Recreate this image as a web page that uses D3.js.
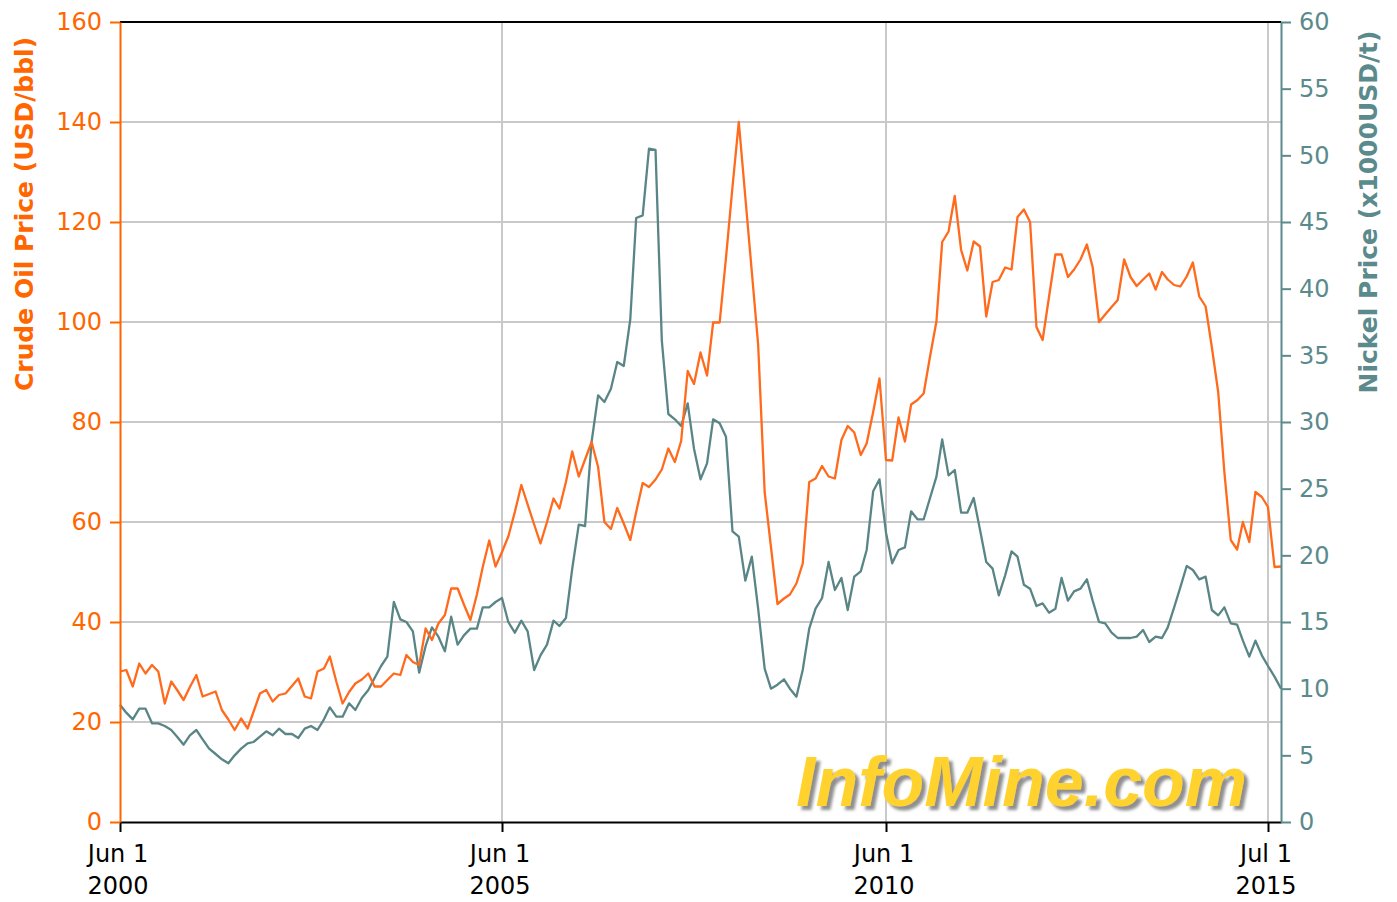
<!DOCTYPE html>
<html>
<head>
<meta charset="utf-8">
<script src="https://cdn.jsdelivr.net/npm/d3@7"></script>
<style>
  html, body { margin: 0; padding: 0; background: #ffffff; }
  svg { display: block; }
</style>
</head>
<body>
<svg id="chart" width="1397" height="902"></svg>
<script>
// ---------------- DATA ----------------
const startMonth = "2000-06-01"; // monthly series start
const oilPrice = [
  30.1,30.4,27.1,31.7,29.7,31.4,30.1,23.7,28.1,26.4,24.4,27.0,
  29.4,25.1,25.6,26.1,22.4,20.5,18.4,20.7,18.7,22.0,25.7,26.4,
  24.1,25.4,25.7,27.2,28.7,25.1,24.7,30.1,30.7,33.1,28.1,23.7,
  26.0,27.7,28.5,29.7,27.1,27.1,28.4,29.7,29.4,33.4,32.0,31.4,
  38.7,36.4,39.7,41.4,46.7,46.7,43.5,40.4,45.5,51.0,56.3,51.1,
  54.0,57.1,62.0,67.4,63.5,59.5,55.7,60.0,64.7,62.7,68.0,74.1,
  69.1,72.5,76.0,71.0,60.0,58.6,62.8,59.7,56.4,62.0,67.8,67.0,
  68.5,70.5,74.7,72.0,76.2,90.2,87.6,93.9,89.3,99.9,99.9,112.8,
  127.0,140.0,125.0,110.0,95.5,66.0,55.0,43.6,44.7,45.5,47.7,51.7,
  68.0,68.7,71.2,69.1,68.7,76.4,79.2,77.9,73.4,75.7,82.0,88.7,
  72.4,72.3,80.9,76.1,83.5,84.4,85.7,93.1,100.1,116.0,118.1,125.2,
  114.4,110.3,116.1,115.1,101.1,108.0,108.4,110.9,110.5,121.0,122.5,120.0,
  99.0,96.4,105.0,113.5,113.5,109.0,110.5,112.5,115.5,111.0,100.0,101.5,
  103.0,104.4,112.5,109.0,107.2,108.5,109.7,106.5,110.0,108.5,107.4,107.1,
  109.1,111.9,105.1,103.1,95.0,86.0,70.0,56.4,54.5,60.0,56.0,66.0,
  65.0,63.0,51.0,51.1
];
const nickelPrice = [
  8.8,8.2,7.7,8.5,8.5,7.4,7.4,7.2,6.9,6.4,5.8,6.5,
  6.9,6.2,5.5,5.1,4.7,4.4,5.0,5.5,5.9,6.0,6.4,6.8,
  6.5,7.0,6.6,6.6,6.3,7.0,7.2,6.9,7.7,8.6,7.9,7.9,
  8.9,8.4,9.3,9.9,10.8,11.7,12.4,16.5,15.2,15.0,14.3,11.2,
  13.2,14.6,13.9,12.8,15.4,13.3,14.0,14.5,14.5,16.1,16.1,16.5,
  16.8,15.0,14.2,15.1,14.3,11.4,12.5,13.3,15.1,14.7,15.3,19.0,
  22.3,22.2,28.5,32.0,31.5,32.5,34.5,34.2,37.7,45.3,45.5,50.5,
  50.4,36.1,30.6,30.2,29.7,31.4,28.0,25.7,26.9,30.2,29.9,28.9,
  21.8,21.4,18.1,19.9,16.0,11.5,10.0,10.3,10.7,10.0,9.4,11.4,
  14.5,16.0,16.8,19.5,17.4,18.3,15.9,18.4,18.8,20.4,24.8,25.7,
  21.7,19.4,20.4,20.6,23.3,22.7,22.7,24.3,25.9,28.7,26.0,26.4,
  23.2,23.2,24.3,21.9,19.5,19.0,17.0,18.5,20.3,19.9,17.8,17.5,
  16.2,16.4,15.7,16.0,18.3,16.6,17.3,17.5,18.2,16.6,15.0,14.9,
  14.2,13.8,13.8,13.8,13.9,14.4,13.5,13.9,13.8,14.6,16.1,17.6,
  19.2,18.9,18.2,18.4,15.9,15.5,16.1,14.9,14.8,13.6,12.4,13.6,
  12.5,11.7,10.9,10.0
];
const xTickDates = ["2000-06-01","2005-06-01","2010-06-01","2015-07-01"];
const xTickLine1 = ["Jun 1","Jun 1","Jun 1","Jul 1"];
const xTickLine2 = ["2000","2005","2010","2015"];
const oilTicks = [0,20,40,60,80,100,120,140,160];
const nickelTicks = [0,5,10,15,20,25,30,35,40,45,50,55,60];
const oilTitle = "Crude Oil Price (USD/bbl)";
const nickelTitle = "Nickel Price (x1000USD/t)";
const watermark = "InfoMine.com";

// ---------------- LAYOUT ----------------
const L = 120, R = 1281, T = 22, B = 822;
const ORANGE = "#ff6600", ORANGE_LINE = "#ff6a1c";
const TEAL = "#5b8a8c", TEAL_LINE = "#5a8587";
const GRID = "#c9c9c9";
const FONT = "'DejaVu Sans', Verdana, sans-serif";

const parse = d3.utcParse("%Y-%m-%d");
const start = parse(startMonth);
const monthDates = d3.range(oilPrice.length).map(i => d3.utcMonth.offset(start, i));
const endDate = monthDates[monthDates.length - 1];

// The source plots evenly by sample, so keep the labelled dates aligned
const x = d3.scaleUtc()
  .domain([...xTickDates.map(parse), endDate])
  .range([L, 502, 886, 1268, R]);
const yOil = d3.scaleLinear().domain([0, 160]).range([B, T]);
const yNi = d3.scaleLinear().domain([0, 60]).range([B, T]);

const svg = d3.select("#chart");

const defs = svg.append("defs");
const f = defs.append("filter").attr("id", "wmShadow")
  .attr("x", "-5%").attr("y", "-10%").attr("width", "115%").attr("height", "130%");
f.append("feDropShadow").attr("dx", 4).attr("dy", 4).attr("stdDeviation", 1.6)
  .attr("flood-color", "#7a7a7a").attr("flood-opacity", 0.85);

// gridlines
svg.append("g").selectAll("line").data(oilTicks.filter(v => v > 0 && v < 160)).join("line")
  .attr("x1", L).attr("x2", R)
  .attr("y1", d => yOil(d)).attr("y2", d => yOil(d))
  .attr("stroke", GRID).attr("stroke-width", 2);
svg.append("g").selectAll("line").data(xTickDates.slice(1)).join("line")
  .attr("x1", d => x(parse(d))).attr("x2", d => x(parse(d)))
  .attr("y1", T).attr("y2", B)
  .attr("stroke", GRID).attr("stroke-width", 2);

// watermark
svg.append("text").attr("x", 796).attr("y", 806)
  .attr("font-family", "'Liberation Sans', Arial, sans-serif")
  .attr("font-weight", "bold").attr("font-style", "italic").attr("font-size", 70)
  .attr("fill", "#ffd22e").attr("filter", "url(#wmShadow)")
  .text(watermark);

// top border
svg.append("line").attr("x1", L).attr("x2", R).attr("y1", T).attr("y2", T)
  .attr("stroke", "#000").attr("stroke-width", 2);

// lines
const lineNi = d3.line().x((d, i) => x(monthDates[i])).y(d => yNi(d));
const lineOil = d3.line().x((d, i) => x(monthDates[i])).y(d => yOil(d));
svg.append("path").datum(nickelPrice).attr("d", lineNi)
  .attr("fill", "none").attr("stroke", TEAL_LINE).attr("stroke-width", 2.3).attr("stroke-linejoin", "round");
svg.append("path").datum(oilPrice).attr("d", lineOil)
  .attr("fill", "none").attr("stroke", ORANGE_LINE).attr("stroke-width", 2.3).attr("stroke-linejoin", "round");

// bottom axis
const xAxis = svg.append("g").attr("transform", `translate(0,${B})`)
  .call(d3.axisBottom(x).tickValues(xTickDates.map(parse)).tickFormat("").tickSize(10).tickSizeOuter(0));
xAxis.select(".domain").attr("stroke", "#000").attr("stroke-width", 2);
xAxis.selectAll(".tick line").attr("stroke", "#000").attr("stroke-width", 2);
const xl = svg.append("g").attr("font-family", FONT).attr("font-size", 24).attr("fill", "#000")
  .attr("text-anchor", "middle");
xTickDates.forEach((d, i) => {
  const cx = x(parse(d)) - 2;
  xl.append("text").attr("x", cx).attr("y", 862).text(xTickLine1[i]);
  xl.append("text").attr("x", cx).attr("y", 894).text(xTickLine2[i]);
});

// left axis
const yl = svg.append("g").attr("transform", `translate(${L},0)`)
  .call(d3.axisLeft(yOil).tickValues(oilTicks).tickSize(10).tickPadding(8).tickSizeOuter(0));
yl.select(".domain").attr("stroke", ORANGE).attr("stroke-width", 2);
yl.selectAll(".tick line").attr("stroke", ORANGE).attr("stroke-width", 2);
yl.selectAll(".tick text").attr("fill", ORANGE).attr("font-family", FONT).attr("font-size", 24);

// right axis
const yr = svg.append("g").attr("transform", `translate(${R},0)`)
  .call(d3.axisRight(yNi).tickValues(nickelTicks).tickSize(10).tickPadding(8).tickSizeOuter(0));
yr.select(".domain").attr("stroke", TEAL).attr("stroke-width", 2);
yr.selectAll(".tick line").attr("stroke", TEAL).attr("stroke-width", 2);
yr.selectAll(".tick text").attr("fill", TEAL).attr("font-family", FONT).attr("font-size", 24);

// axis titles
svg.append("text").attr("transform", "translate(33,214) rotate(-90)")
  .attr("text-anchor", "middle").attr("font-family", FONT).attr("font-weight", "bold")
  .attr("font-size", 25).attr("fill", ORANGE).text(oilTitle);
svg.append("text").attr("transform", "translate(1377,212) rotate(-90)")
  .attr("text-anchor", "middle").attr("font-family", FONT).attr("font-weight", "bold")
  .attr("font-size", 25).attr("fill", TEAL).text(nickelTitle);
</script>
</body>
</html>
